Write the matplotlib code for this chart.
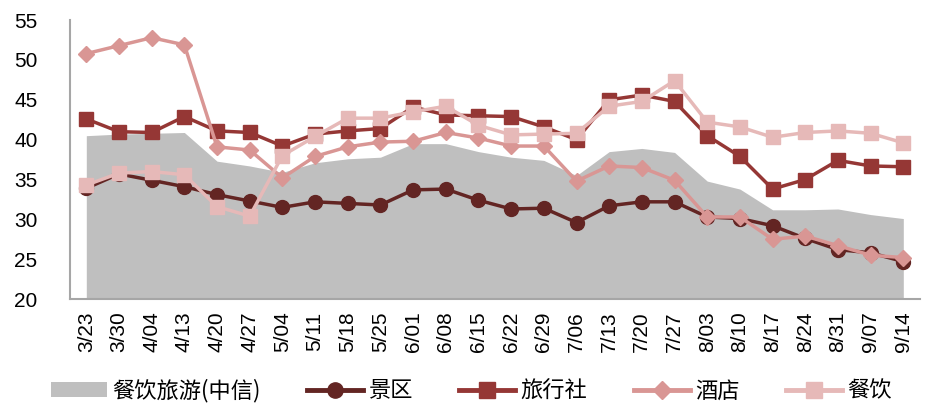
import matplotlib
matplotlib.use("Agg")
import matplotlib.pyplot as plt
from matplotlib.patches import Patch
from matplotlib.lines import Line2D

dates = ["3/23", "3/30", "4/04", "4/13", "4/20", "4/27", "5/04", "5/11", "5/18", "5/25",
         "6/01", "6/08", "6/15", "6/22", "6/29", "7/06", "7/13", "7/20", "7/27", "8/03",
         "8/10", "8/17", "8/24", "8/31", "9/07", "9/14"]

index_citic = [40.5, 40.7, 40.8, 40.9, 37.3, 36.7, 35.9, 37.1, 37.6, 37.8,
               39.5, 39.5, 38.5, 37.8, 37.4, 35.5, 38.5, 38.9, 38.4, 34.8,
               33.8, 31.2, 31.2, 31.3, 30.6, 30.1]
scenic = [33.9, 35.7, 34.9, 34.1, 33.1, 32.3, 31.5, 32.2, 32.0, 31.8,
          33.7, 33.8, 32.4, 31.3, 31.4, 29.6, 31.7, 32.2, 32.2, 30.3,
          30.1, 29.2, 27.6, 26.2, 25.8, 24.7]
travel = [42.6, 41.0, 40.9, 42.9, 41.1, 40.9, 39.2, 40.7, 41.1, 41.4,
          44.1, 43.1, 43.0, 42.9, 41.6, 40.0, 45.0, 45.6, 44.8, 40.5,
          37.9, 33.8, 35.0, 37.4, 36.7, 36.6]
hotel = [50.8, 51.8, 52.8, 51.9, 39.1, 38.7, 35.2, 37.9, 39.1, 39.7,
         39.8, 40.9, 40.2, 39.2, 39.2, 34.8, 36.7, 36.5, 34.9, 30.3,
         30.3, 27.5, 27.9, 26.7, 25.5, 25.2]
catering = [34.3, 35.8, 36.0, 35.6, 31.6, 30.4, 38.0, 40.4, 42.7, 42.7,
            43.5, 44.2, 41.8, 40.6, 40.7, 40.8, 44.2, 44.8, 47.4, 42.2,
            41.6, 40.3, 40.9, 41.1, 40.8, 39.6]

labels = ["餐饮旅游(中信)", "景区", "旅行社", "酒店", "餐饮"]
c_area = "#BFBFBF"
c_scenic = "#632523"
c_travel = "#953735"
c_hotel = "#D99694"
c_cater = "#E6B9B8"

plt.rcParams['font.family'] = ['Liberation Sans', 'Noto Sans CJK SC', 'DejaVu Sans']

fig = plt.figure(figsize=(9.28, 4.03), dpi=100)
ax = fig.add_axes([0.0754, 0.258, 0.9156, 0.692])

x = list(range(len(dates)))
ax.fill_between(x, 0, index_citic, color=c_area, linewidth=0, zorder=1)
ax.plot(x, scenic, color=c_scenic, lw=2.5, marker='o', ms=10, zorder=3)
ax.plot(x, travel, color=c_travel, lw=2.5, marker='s', ms=10, zorder=4)
ax.plot(x, hotel, color=c_hotel, lw=2.5, marker='D', ms=8, zorder=5)
ax.plot(x, catering, color=c_cater, lw=2.5, marker='s', ms=10, zorder=6)

ax.set_xlim(-0.5, len(dates) - 0.5)
ax.set_ylim(20, 55)
ax.set_yticks([20, 25, 30, 35, 40, 45, 50, 55])
ax.set_xticks(x)
ax.set_xticklabels(dates, rotation=90, fontsize=15)
ax.tick_params(axis='y', labelsize=15, length=0, pad=40)
ax.tick_params(axis='x', length=0, pad=9)
for s in ['top', 'right']:
    ax.spines[s].set_visible(False)
for s in ['left', 'bottom']:
    ax.spines[s].set_color('#A6A6A6')
    ax.spines[s].set_linewidth(1.5)
for lab in ax.get_yticklabels():
    lab.set_horizontalalignment('left')

handles = [
    Patch(facecolor=c_area, edgecolor='none'),
    Line2D([], [], color=c_scenic, lw=3.5, marker='o', ms=11),
    Line2D([], [], color=c_travel, lw=3.5, marker='s', ms=11),
    Line2D([], [], color=c_hotel, lw=3.5, marker='D', ms=9),
    Line2D([], [], color=c_cater, lw=3.5, marker='s', ms=11),
]
fig.legend(handles, labels, loc='lower center', bbox_to_anchor=(0.508, -0.048), ncol=5,
           frameon=False, prop={'family': ['Noto Sans CJK SC'], 'size': 16},
           handlelength=2.5, handletextpad=0.25, columnspacing=2.1, handleheight=0.6)

fig.savefig("out.png", dpi=100)
